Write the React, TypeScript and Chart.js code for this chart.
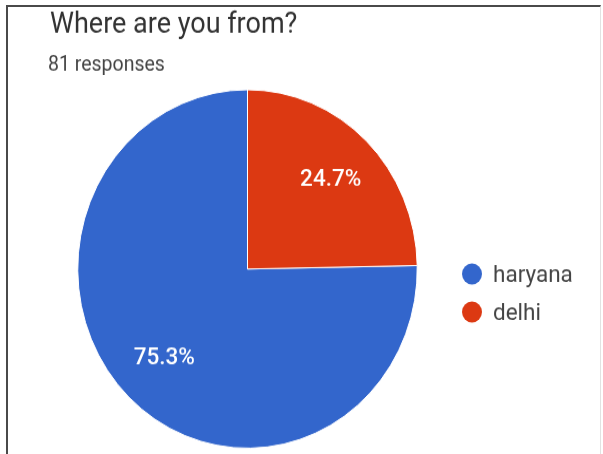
import React, { useEffect, useRef } from "react";
import { Chart, registerables } from "chart.js";

Chart.register(...registerables);

const title = "Where are you from?";
const subtitle = "81 responses";
const categories = ["haryana", "delhi"];
const counts = [61, 20];
const colors = ["#3366cc", "#dc3912"];

const W = 603;
const H = 430;
const STRETCH = 454 / 430;

const overlay = {
  id: "overlay",
  afterDraw(chart: any) {
    const ctx = chart.ctx as CanvasRenderingContext2D;
    ctx.save();
    // Title & subtitle
    ctx.textAlign = "left";
    ctx.textBaseline = "alphabetic";
    ctx.fillStyle = "#333333";
    ctx.font = "27px Roboto";
    ctx.fillText(title, 50, 31);
    ctx.fillStyle = "#444";
    ctx.font = "19.5px Roboto";
    ctx.fillText(subtitle, 48, 67);

    // Percentage labels
    const meta = chart.getDatasetMeta(0);
    const data = chart.data.datasets[0].data as number[];
    const total = data.reduce((a, b) => a + b, 0);
    ctx.fillStyle = "#ffffff";
    ctx.font = "500 22.5px Roboto";
    ctx.textAlign = "center";
    ctx.textBaseline = "middle";
    meta.data.forEach((arc: any, i: number) => {
      const { x, y, startAngle, endAngle, outerRadius } = arc.getProps(
        ["x", "y", "startAngle", "endAngle", "outerRadius"],
        true
      );
      const mid = (startAngle + endAngle) / 2;
      const r = outerRadius * 0.7;
      const pct = ((data[i] / total) * 100).toFixed(1) + "%";
      ctx.fillText(pct, x + Math.cos(mid) * r, y + Math.sin(mid) * r);
    });

    // Legend
    const lx = 472;
    const ly0 = 259.5;
    const gap = 36;
    ctx.textAlign = "left";
    ctx.font = "22.5px Roboto";
    (chart.data.labels as string[]).forEach((lab, i) => {
      const cy = ly0 + i * gap;
      ctx.beginPath();
      ctx.arc(lx, cy, 10, 0, Math.PI * 2);
      ctx.fillStyle = colors[i];
      ctx.fill();
      ctx.fillStyle = "#444";
      ctx.fillText(lab, 493, cy + 1.5);
    });
    ctx.restore();
  },
};

export default function App() {
  const ref = useRef<HTMLCanvasElement | null>(null);
  useEffect(() => {
    if (!ref.current) return;
    const total = counts.reduce((a, b) => a + b, 0);
    const rotation = (counts[1] / total) * 360;
    const chart = new Chart(ref.current, {
      type: "pie",
      data: {
        labels: categories,
        datasets: [
          {
            data: counts,
            backgroundColor: colors,
            borderColor: "#ffffff",
            borderWidth: 1,
          },
        ],
      },
      options: {
        responsive: false,
        animation: false,
        devicePixelRatio: 1,
        rotation,
        layout: { padding: { left: 77, right: 185, top: 84.5, bottom: 5 } },
        plugins: {
          legend: { display: false },
          tooltip: { enabled: false },
          title: { display: false },
        },
      },
      plugins: [overlay],
    });
    return () => chart.destroy();
  }, []);

  return (
    <div
      style={{
        position: "fixed",
        top: 0,
        left: 0,
        width: 603,
        height: 454,
        background: "#fff",
        overflow: "hidden",
      }}
    >
      <div
        style={{
          position: "absolute",
          top: 0,
          left: 0,
          width: W,
          height: H,
          transform: `scaleY(${STRETCH})`,
          transformOrigin: "top left",
        }}
      >
        <canvas ref={ref} width={W} height={H} style={{ width: W, height: H, display: "block" }} />
      </div>
      <div
        style={{
          position: "absolute",
          left: 6,
          top: 5,
          width: 592,
          height: 460,
          borderLeft: "2px solid #4a4a4a",
          borderTop: "2px solid #4a4a4a",
          borderRight: "1px solid #e2e2e2",
          pointerEvents: "none",
        }}
      />
    </div>
  );
}
